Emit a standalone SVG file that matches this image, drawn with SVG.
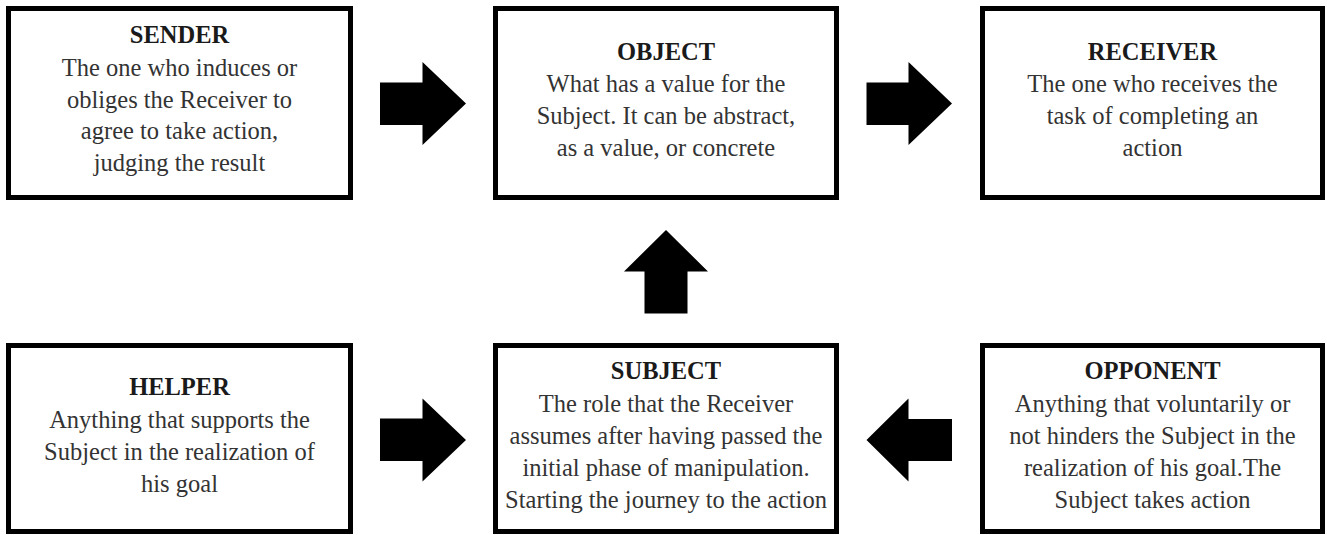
<svg xmlns="http://www.w3.org/2000/svg" width="1327" height="535" viewBox="0 0 1327 535">
<style>
.box{fill:#fff;stroke:#000;stroke-width:5}
text{font-family:'Liberation Serif','Times New Roman','DejaVu Serif',serif;font-size:24.5px;text-anchor:middle}
.h{font-weight:bold;fill:#1a1a1a}
.b{fill:#333}
.arrow{fill:#000}
</style>
<rect width="1327" height="535" fill="#fff"/>
<g id="sender" font-family="Liberation Serif, serif">
<rect class="box" x="8.5" y="8.5" width="342" height="189"/>
<text class="h" x="179.5" y="43">SENDER</text>
<text class="b" x="179.5" y="76">The one who induces or</text>
<text class="b" x="179.5" y="107.5">obliges the Receiver to</text>
<text class="b" x="179.5" y="139">agree to take action,</text>
<text class="b" x="179.5" y="171">judging the result</text>
</g>
<g id="object">
<rect class="box" x="495.5" y="8.5" width="341" height="189"/>
<text class="h" x="666" y="60">OBJECT</text>
<text class="b" x="666" y="92">What has a value for the</text>
<text class="b" x="666" y="124">Subject. It can be abstract,</text>
<text class="b" x="666" y="156">as a value, or concrete</text>
</g>
<g id="receiver">
<rect class="box" x="982.5" y="8.5" width="340" height="189"/>
<text class="h" x="1152.5" y="60">RECEIVER</text>
<text class="b" x="1152.5" y="92">The one who receives the</text>
<text class="b" x="1152.5" y="124">task of completing an</text>
<text class="b" x="1152.5" y="156">action</text>
</g>
<g id="helper">
<rect class="box" x="8.5" y="345.5" width="342" height="186"/>
<text class="h" x="179.5" y="395">HELPER</text>
<text class="b" x="179.5" y="427.5">Anything that supports the</text>
<text class="b" x="179.5" y="460">Subject in the realization of</text>
<text class="b" x="179.5" y="492">his goal</text>
</g>
<g id="subject">
<rect class="box" x="495.5" y="345.5" width="341" height="186"/>
<text class="h" x="666" y="379">SUBJECT</text>
<text class="b" x="666" y="411.5">The role that the Receiver</text>
<text class="b" x="666" y="444">assumes after having passed the</text>
<text class="b" x="666" y="476">initial phase of manipulation.</text>
<text class="b" x="666" y="508">Starting the journey to the action</text>
</g>
<g id="opponent">
<rect class="box" x="982.5" y="345.5" width="340" height="186"/>
<text class="h" x="1152.5" y="379">OPPONENT</text>
<text class="b" x="1152.5" y="411.5">Anything that voluntarily or</text>
<text class="b" x="1152.5" y="444">not hinders the Subject in the</text>
<text class="b" x="1152.5" y="476">realization of his goal.The</text>
<text class="b" x="1152.5" y="508">Subject takes action</text>
</g>
<g id="connectors">
<polygon class="arrow" points="380,82.5 422.5,82.5 422.5,62 466,103.5 422.5,145 422.5,125 380,125"/>
<polygon class="arrow" points="866.5,82.5 908.5,82.5 908.5,62 952,103.5 908.5,145 908.5,125 866.5,125"/>
<polygon class="arrow" points="644.5,313.5 644.5,271.5 624,271.5 666,230 708,271.5 687.5,271.5 687.5,313.5"/>
<polygon class="arrow" points="380,418.5 422.5,418.5 422.5,398.5 466,440 422.5,481.5 422.5,461 380,461"/>
<polygon class="arrow" points="952,419 908.5,419 908.5,398.5 866.5,440 908.5,481.5 908.5,461 952,461"/>
</g>
</svg>
